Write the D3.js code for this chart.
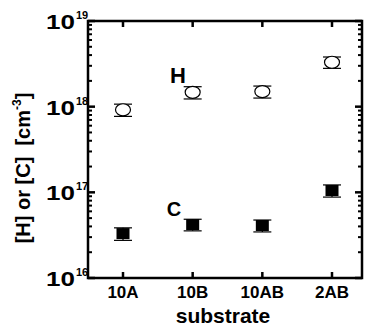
<!DOCTYPE html>
<html><head><meta charset="utf-8">
<script src="https://cdn.jsdelivr.net/npm/d3@7"></script>
<style>
html,body{margin:0;padding:0;background:#fff;}
svg{display:block;font-family:"Liberation Sans",Arial,sans-serif;font-weight:bold;}
</style></head>
<body>
<svg id="chart" width="366" height="329"></svg>
<script>
const categories = ["10A", "10B", "10AB", "2AB"];
const hValues = [9.2e17, 1.47e18, 1.5e18, 3.3e18];
const hErrors = [1.5e17, 2.4e17, 2.4e17, 0.5e18];
const cValues = [3.3e16, 4.2e16, 4.1e16, 1.05e17];
const cErrors = [0.55e16, 0.65e16, 0.65e16, 0.17e17];
const yTickExps = [16, 17, 18, 19];
const seriesLabels = ["H", "C"];

const svg = d3.select("#chart");
const L = 88, R = 362, T = 21, B = 278;
const x = d3.scalePoint().domain(categories).range([123, 332]);
const y = d3.scaleLog().domain([1e16, 1e19]).range([B, T]);

// frame
svg.append("rect").attr("x", L).attr("y", T).attr("width", R - L).attr("height", B - T)
  .attr("fill", "none").attr("stroke", "#000").attr("stroke-width", 2.5);

// y ticks (major + minor) on both sides
const minor = [];
for (let e = 16; e < 19; e++) for (let m = 2; m <= 9; m++) minor.push(m * Math.pow(10, e));
const major = yTickExps.map(e => Math.pow(10, e));
const tickG = svg.append("g").attr("stroke", "#000");
minor.forEach(v => {
  tickG.append("line").attr("x1", L).attr("x2", L + 4).attr("y1", y(v)).attr("y2", y(v)).attr("stroke-width", 2);
  tickG.append("line").attr("x1", R).attr("x2", R - 4).attr("y1", y(v)).attr("y2", y(v)).attr("stroke-width", 2);
});
major.forEach(v => {
  tickG.append("line").attr("x1", L).attr("x2", L + 7).attr("y1", y(v)).attr("y2", y(v)).attr("stroke-width", 2.5);
  tickG.append("line").attr("x1", R).attr("x2", R - 7).attr("y1", y(v)).attr("y2", y(v)).attr("stroke-width", 2.5);
});
// x ticks top & bottom
categories.forEach(c => {
  tickG.append("line").attr("x1", x(c)).attr("x2", x(c)).attr("y1", B).attr("y2", B - 6).attr("stroke-width", 2.5);
  tickG.append("line").attr("x1", x(c)).attr("x2", x(c)).attr("y1", T).attr("y2", T + 6).attr("stroke-width", 2.5);
});

// y tick labels
yTickExps.forEach(e => {
  const yy = y(Math.pow(10, e));
  svg.append("text").attr("transform", `translate(75,${yy + 8}) scale(1.3,1)`)
    .attr("text-anchor", "end").attr("font-size", 20).text("10");
  svg.append("text").attr("x", 76).attr("y", yy - 2).attr("font-size", 11).text(e);
});

// x tick labels
categories.forEach(c => {
  svg.append("text").attr("x", x(c)).attr("y", 298).attr("text-anchor", "middle")
    .attr("font-size", 17).text(c);
});
svg.append("text").attr("x", 223).attr("y", 323).attr("text-anchor", "middle")
  .attr("font-size", 21).text("substrate");

// y title
const yt = svg.append("text").attr("transform", "translate(30,168) rotate(-90)")
  .attr("text-anchor", "middle").attr("font-size", 20);
yt.append("tspan").text("[H] or [C]\u00a0\u00a0[cm");
yt.append("tspan").attr("font-size", 12).attr("dy", -9).text("-3");
yt.append("tspan").attr("dy", 9).text("]");

// error bars + markers
function errBars(vals, errs) {
  const g = svg.append("g").attr("stroke", "#000").attr("stroke-width", 1.2);
  vals.forEach((v, i) => {
    const cx = x(categories[i]);
    const yt = y(v + errs[i]), yb = y(v - errs[i]);
    g.append("line").attr("x1", cx).attr("x2", cx).attr("y1", yt).attr("y2", yb);
    g.append("line").attr("x1", cx - 9).attr("x2", cx + 9).attr("y1", yt).attr("y2", yt);
    g.append("line").attr("x1", cx - 9).attr("x2", cx + 9).attr("y1", yb).attr("y2", yb);
  });
}
errBars(hValues, hErrors);
errBars(cValues, cErrors);
svg.append("g").selectAll("ellipse").data(hValues).join("ellipse")
  .attr("cx", (d, i) => x(categories[i])).attr("cy", d => y(d))
  .attr("rx", 7.5).attr("ry", 6).attr("fill", "#fff").attr("stroke", "#000").attr("stroke-width", 1.2);
svg.append("g").selectAll("rect").data(cValues).join("rect")
  .attr("x", (d, i) => x(categories[i]) - 6.5).attr("y", d => y(d) - 5.5)
  .attr("width", 13).attr("height", 11).attr("fill", "#000");

// series labels
svg.append("text").attr("x", 178).attr("y", 83).attr("text-anchor", "middle").attr("font-size", 22).text(seriesLabels[0]);
svg.append("text").attr("x", 174).attr("y", 216).attr("text-anchor", "middle").attr("font-size", 20).text(seriesLabels[1]);
</script>
</body></html>
